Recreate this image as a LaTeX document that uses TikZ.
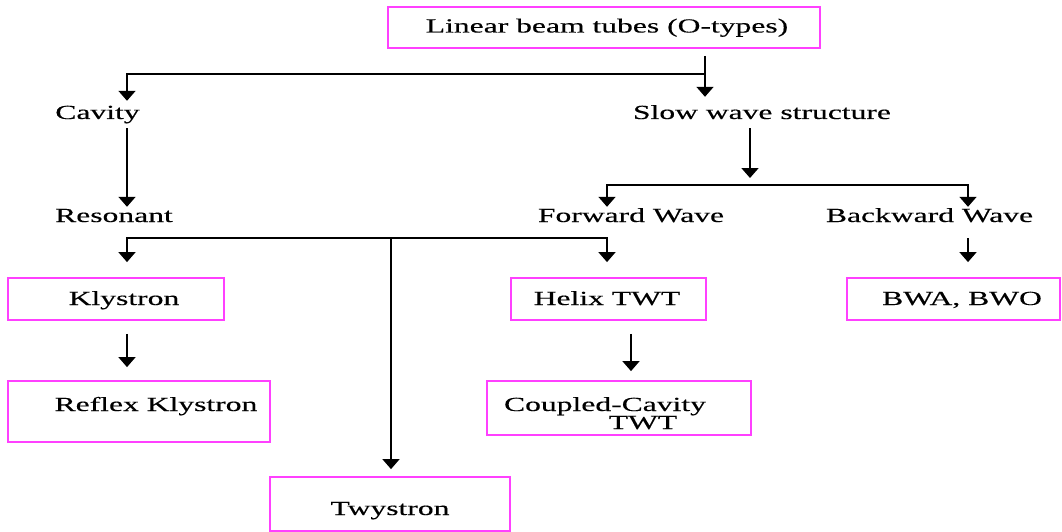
\documentclass[tikz,border=0pt]{standalone}
\usepackage{fontspec}
\setmainfont{Liberation Serif}[FakeStretch=1.58,FakeBold=0.35]
\usetikzlibrary{arrows.meta}
\definecolor{pinkline}{RGB}{255,64,255}
\begin{document}
\begin{tikzpicture}[x=1pt,y=-1pt,
  txt/.style={font=\fontsize{20}{22}\selectfont, inner sep=0pt, text height=14pt, text depth=4pt},
  box/.style={draw=pinkline, line width=1.8pt, inner sep=0pt},
  arr/.style={line width=1.7pt, -{Triangle[width=17pt,length=10pt]}}]
\useasboundingbox (0,0) rectangle (1062,532);

% boxes
\node[box, minimum width=432pt, minimum height=41pt,
  label={[txt,xshift=3pt]center:Linear beam tubes (O-types)}] (top) at (604,27.5) {};
\node[box, minimum width=216pt, minimum height=42pt,
  label={[txt,xshift=8pt,yshift=-1pt]center:Klystron}] (kly) at (116,299) {};
\node[box, minimum width=195pt, minimum height=42pt,
  label={[txt,xshift=-1.5pt,yshift=-1pt]center:Helix TWT}] (helix) at (608.5,299) {};
\node[box, minimum width=213pt, minimum height=42pt,
  label={[txt,xshift=8.5pt,yshift=-1pt]center:BWA, BWO}] (bwa) at (953.5,299) {};
\node[box, minimum width=262pt, minimum height=61pt,
  label={[txt,xshift=17pt,yshift=5.5pt]center:Reflex Klystron}] (reflex) at (139,411.5) {};
\node[box, minimum width=264pt, minimum height=54pt,
  label={[txt,xshift=-14pt,yshift=2pt]center:Coupled-Cavity},
  label={[txt,xshift=24pt,yshift=-16pt]center:TWT}] (coupled) at (619,408) {};
\node[box, minimum width=240pt, minimum height=54pt,
  label={[txt,yshift=-6pt]center:Twystron}] (twy) at (390,504) {};

% plain text nodes
\node[txt] (cav) at (97.5,114) {Cavity};
\node[txt] (slow) at (762,114) {Slow wave structure};
\node[txt] (res) at (114,217) {Resonant};
\node[txt] (fwd) at (631,217) {Forward Wave};
\node[txt] (bwd) at (929.5,217) {Backward Wave};

% junction coordinates
\coordinate (jA) at (705,74);
\coordinate (colL) at (127,74);
\coordinate (rL) at (127,238);
\coordinate (rM) at (391,238);
\coordinate (rR) at (607,238);
\coordinate (sM) at (750,185);
\coordinate (sL) at (607,185);
\coordinate (sR) at (968,185);
\coordinate (hC) at (631,340);

% connectors
\draw[arr] ([yshift=-7pt]top.south -| jA) -- ([yshift=8pt]slow.north -| jA);
\draw[arr] (jA) -- (colL) -- ([yshift=4pt]cav.north -| colL);
\draw[arr] ([yshift=-5pt]cav.south -| colL) -- ([yshift=1pt]res.north -| colL);
\draw[arr] (rR) -- (rL) -- ([yshift=15pt]kly.north -| rL);
\draw[arr] (rL) -- (rR) -- ([yshift=15pt]helix.north -| rR);
\draw[arr] (rM) -- ([yshift=7pt]twy.north -| rM);
\draw[arr] ([yshift=-5pt]slow.south -| sM) -- ([yshift=7pt]sM);
\draw[arr] (sR) -- (sL) -- ([yshift=1pt]fwd.north -| sL);
\draw[arr] (sL) -- (sR) -- ([yshift=1pt]bwd.north -| sR);
\draw[arr] ([yshift=-12pt]bwd.south -| sR) -- ([yshift=15pt]bwa.north -| sR);
\draw[arr] ([yshift=-13pt]kly.south -| rL) -- ([yshift=13pt]reflex.north -| rL);
\draw[arr] ([yshift=-13pt]helix.south -| hC) -- ([yshift=9pt]coupled.north -| hC);
\end{tikzpicture}
\end{document}
